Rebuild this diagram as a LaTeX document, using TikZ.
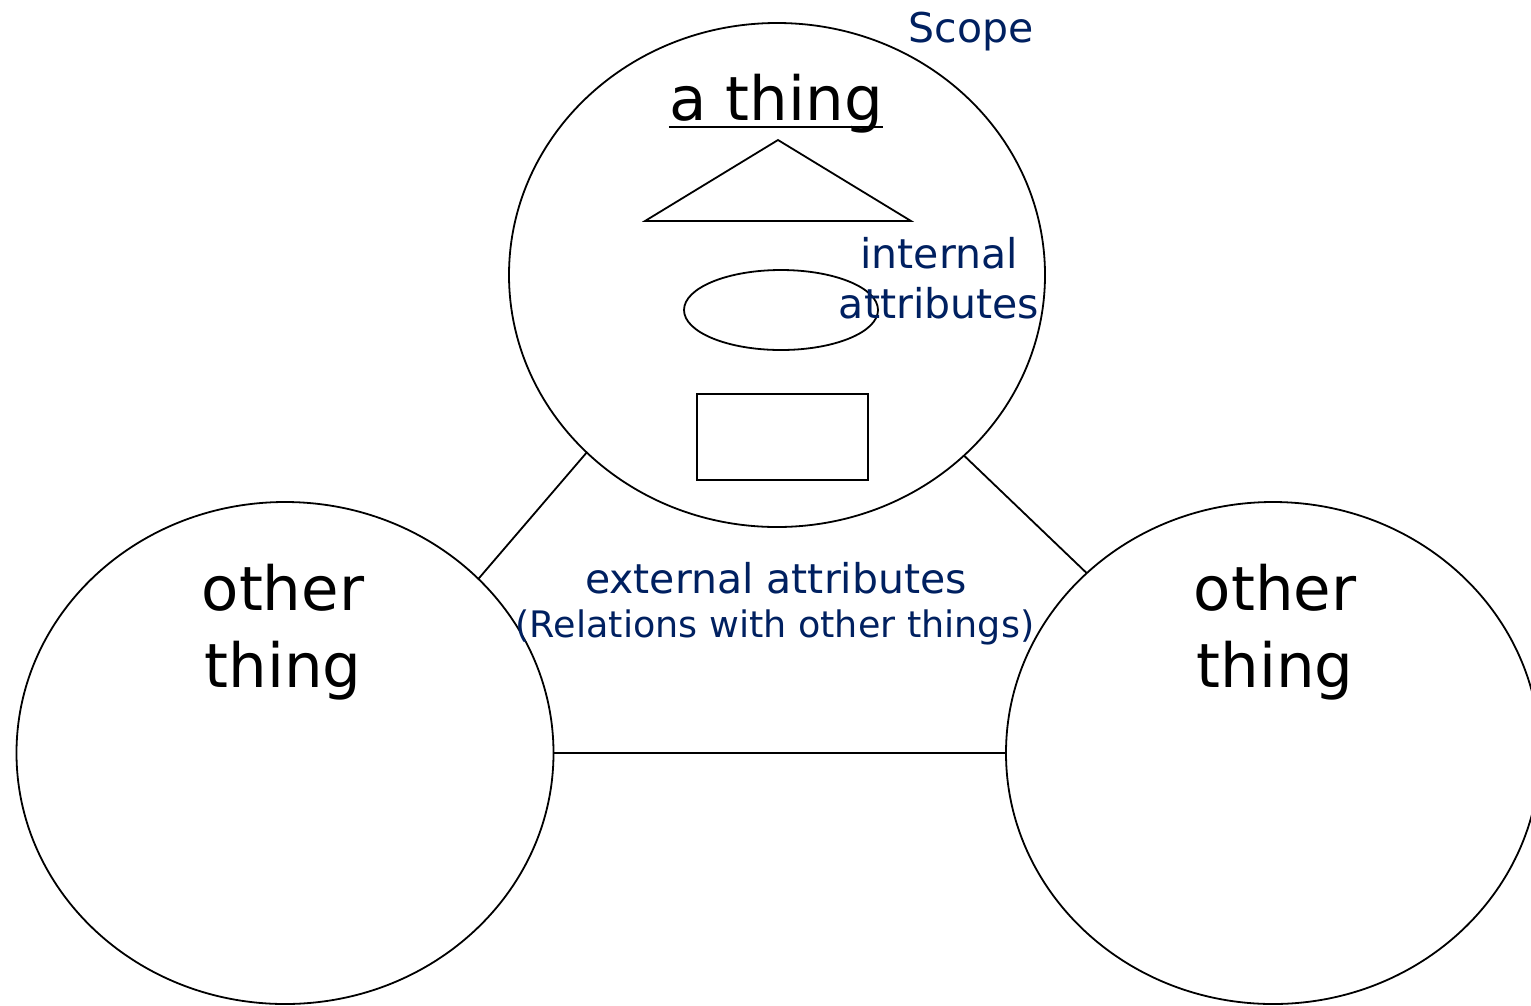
\documentclass[tikz,border=0pt]{standalone}
\usepackage{fontspec}
\setmainfont{DejaVu Sans}
\usetikzlibrary{shapes.geometric}
\definecolor{navy}{RGB}{0,32,96}
\tikzset{
  thing/.style={draw, ellipse, line width=1.8pt, outer sep=0pt, inner sep=0pt},
  bigtext/.style={font=\fontsize{61}{76}\selectfont, align=center, inner sep=0pt, anchor=base},
  bluetext/.style={font=\fontsize{41}{50}\selectfont, text=navy, align=center, inner sep=0pt, anchor=base},
  smallblue/.style={font=\fontsize{36.5}{44}\selectfont, text=navy, inner sep=0pt, anchor=base},
  link/.style={line width=1.8pt},
  part/.style={draw, line width=1.8pt},
}
\begin{document}
\begin{tikzpicture}[x=1pt,y=-1pt]
\useasboundingbox (0,0) rectangle (1531,1005);
% main ellipses
\node[thing, minimum width=536pt, minimum height=504pt] (top) at (777,275) {};
\node[thing, minimum width=537pt, minimum height=502pt] (left) at (285,753) {};
\node[thing, minimum width=534pt, minimum height=502pt] (right) at (1273,753) {};
% connectors
\draw[link] (top.223.5) -- (left.42.8);
\draw[link] (top.316.7) -- (right.136.4);
\draw[link] (left) -- (right);
% inner parts
\coordinate (tA) at (778,140);
\coordinate (tB) at (645,221);
\coordinate (tC) at (911,221);
\draw[part] (tA) -- (tB) -- (tC) -- cycle;
\node[thing, minimum width=194pt, minimum height=80pt] (inner) at (781,310) {};
\node[part, minimum width=171pt, minimum height=86pt, inner sep=0pt, outer sep=0pt] (box) at (782.5,437) {};
% texts
\node[bluetext] (scope) at (971,42) {Scope};
\node[bigtext] (athing) at (776,120) {a thing};
\draw[line width=2.5pt] ([yshift=-7pt]athing.base west) -- ([yshift=-7pt]athing.base east);
\node[bluetext] (internal) at (939,268) {internal};
\node[bluetext] (attrib) at (939,318) {attributes};
\node[bluetext] (ext) at (776,593) {external attributes};
\node[smallblue] (rel) at (775,637) {(Relations with other things)};
\node[bigtext] (o1) at (283,610) {other};
\node[bigtext] (o1b) at (283,687) {thing};
\node[bigtext] (o2) at (1275,610) {other};
\node[bigtext] (o2b) at (1275,687) {thing};
\end{tikzpicture}
\end{document}
